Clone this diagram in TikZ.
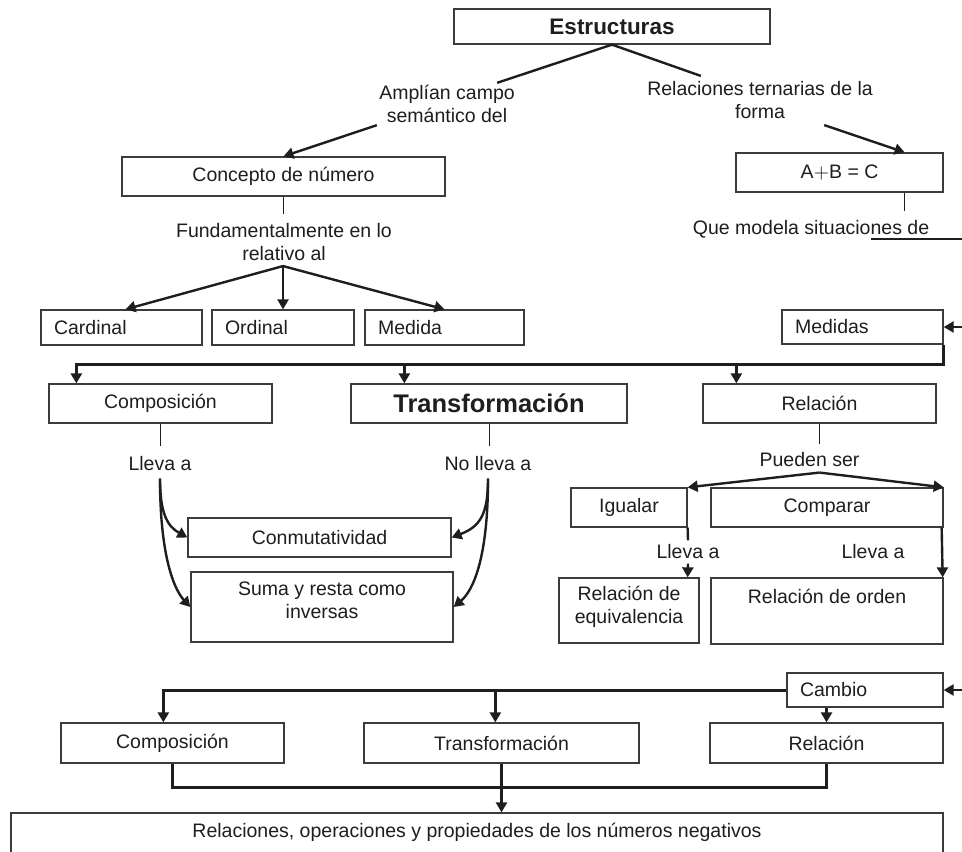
\documentclass[tikz,border=0pt]{standalone}
\usepackage{fontspec}
\setmainfont{Liberation Sans}
\usetikzlibrary{arrows.meta,calc}
\newcommand\mainfs{\fontsize{9.75}{11.5}\selectfont}
\definecolor{ink}{HTML}{1E1E1E}
\definecolor{frame}{HTML}{3C3C3C}
\begin{document}
\begin{tikzpicture}[x=0.5pt,y=-0.5pt,
  font=\mainfs, text=ink,
  >={Triangle[length=5pt,width=5.5pt]},
  box/.style={draw=frame, line width=0.65pt, rectangle, inner sep=0pt, align=center},
  lbox/.style={draw=frame, line width=0.65pt, rectangle, inner xsep=6.5pt, inner ysep=0pt, align=left},
  lbl/.style={inner sep=1pt, align=center},
  thin/.style={draw=ink, line width=0.5pt},
  link/.style={draw=ink, line width=1.2pt},
  bus/.style={draw=ink, line width=1.5pt},
]
\fill[white] (0,0) rectangle (962,851);
\useasboundingbox (0,0) rectangle (962,851);
\clip (0,0) rectangle (962,851);

% ---------- top: structures ----------
\node[box, minimum width=158pt, minimum height=17.5pt,
      font=\fontsize{11.25}{13}\selectfont\bfseries] (estr) at (612,26.5) {Estructuras};
\node[lbl] (amp) at (447,104) {Amplían campo\\semántico del};
\node[lbl] (rel) at (760,100) {Relaciones ternarias de la\\forma};
\node[box, minimum width=161.5pt, minimum height=19.5pt] (conc) at (283.5,176.5) {Concepto de número};
\node[box, minimum width=103.5pt, minimum height=19.5pt] (abc) at (839.5,172.5) {A$+$B = C};
\node[lbl] (fund) at (284,242) {Fundamentalmente en lo\\relativo al};
\node[lbl] (que) at (811,229) {Que modela situaciones de};

\node[lbox, text width=67.5pt, minimum height=17.5pt] (card) at (121.5,327.5) {Cardinal};
\node[lbox, text width=58pt, minimum height=17.5pt] (ord) at (283,327.5) {Ordinal};
\node[lbox, text width=66.5pt, minimum height=17.5pt] (med) at (444.5,327.5) {Medida};
\node[lbox, text width=67.5pt, minimum height=17pt] (meds) at (862.5,327) {Medidas};

% ---------- middle: measures ----------
\node[box, minimum width=111.5pt, minimum height=19.5pt] (comp) at (160.5,403.5) {Composición};
\node[box, minimum width=138pt, minimum height=19.5pt,
      font=\fontsize{12.75}{15}\selectfont\bfseries] (trans) at (489,403.5) {Transformación};
\node[box, minimum width=116.5pt, minimum height=19.5pt] (relc) at (819.5,403.5) {Relación};
\node[lbl] (ll1) at (160,464) {Lleva a};
\node[lbl] (nll) at (488,464) {No lleva a};
\node[lbl] (pud) at (809.5,460) {Pueden ser};
\node[box, minimum width=131.5pt, minimum height=19.5pt] (conm) at (319.5,537.5) {Conmutatividad};
\node[box, minimum width=131pt, minimum height=35pt] (suma) at (322,607)
     {Suma y resta como\\inversas\rule[-6.5pt]{0pt}{0pt}};
\node[box, minimum width=58pt, minimum height=19.5pt] (igu) at (629,507.5) {Igualar};
\node[box, minimum width=116pt, minimum height=19.5pt] (cmp) at (827,507.5) {Comparar};
\node[lbl, inner sep=2pt] (ll2) at (688,552) {Lleva a};
\node[lbl] (ll3) at (873,552) {Lleva a};
\node[box, minimum width=70pt, minimum height=32.5pt] (eqv) at (629,610.5)
     {Relación de\\equivalencia\rule[-6pt]{0pt}{0pt}};
\node[box, minimum width=116pt, minimum height=33pt, text height=7pt, text depth=15pt]
     (orden) at (827,611) {Relación de orden};

% ---------- bottom: change ----------
\node[lbox, text width=65pt, minimum height=17pt] (camb) at (865,690) {Cambio};
\node[box, minimum width=111.5pt, minimum height=20pt] (comp2) at (172.5,743) {Composición};
\node[box, minimum width=137.5pt, minimum height=20pt] (trans2) at (501.5,743) {Transformación};
\node[box, minimum width=116.5pt, minimum height=20pt] (relc2) at (826.5,743) {Relación};
\node[box, minimum width=466pt, minimum height=28.5pt, text height=7pt, text depth=11.5pt]
     (neg) at (477,841.5) {Relaciones, operaciones y propiedades de los números negativos};

% free ends running off the right margin
\coordinate (uS) at (871,239);
\coordinate (eR1) at (975,239);
\coordinate (eR2) at (975,327);
\coordinate (eR3) at (975,690);

% ---------- connectors ----------
\draw[link] (estr.south) -- ($(amp.north east)+(-20,0)$);
\draw[link] (estr.south) -- ($(rel.north west)+(56,-3)$);
\draw[link,->] (amp.south west) -- (conc.north);
\draw[link,->] ($(rel.south east)+(-51,4)$) -- ($(abc.north east)+(-39,0)$);
\draw[thin] ($(abc.south east)+(-39,0)$) -- ++(0,18);
\draw[link] (uS) -- (eR1);

\draw[thin] (conc.south) -- ++(0,17);
\coordinate (br1) at ($(fund.south)+(-1,3)$);
\draw[link,->] (br1) -- ($(card.north)+(4,0)$);
\draw[link,->] (br1) -- (ord.north);
\draw[link,->] (br1) -- (med.north);

\draw[link,->] (eR2) -- (meds.east);
\draw[bus,->] (meds.south east) -- ++(0,20) -| ($(comp.north west)+(28,0)$);
\draw[link,->] ($(trans.north west)+(54,-20)$) -- ($(trans.north west)+(54,0)$);
\draw[link,->] ($(relc.north west)+(34,-20)$) -- ($(relc.north west)+(34,0)$);

\draw[thin] (comp.south) -- ++(0,22);
\draw[thin] (trans.south) -- ++(0,22);
\coordinate (c1) at ($(ll1.south)+(0,5)$);
\coordinate (c2) at ($(nll.south)+(0,5)$);
\draw[link,->] (c1) .. controls ($(c1)+(0,36)$) and ($(c1)+(8,48)$) .. (conm.west);
\draw[link,->] (c1) .. controls ($(c1)+(0,83)$) and ($(c1)+(16,113)$) .. (suma.west);
\draw[link,->] (c2) .. controls ($(c2)+(0,36)$) and ($(c2)+(-8,48)$) .. (conm.east);
\draw[link,->] (c2) .. controls ($(c2)+(0,83)$) and ($(c2)+(-16,113)$) .. (suma.east);

\draw[thin] (relc.south) -- ++(0,20);
\coordinate (br2) at ($(relc.south |- pud.south)+(0,3)$);
\draw[link,->] (br2) -- (igu.north east);
\draw[link,->] (br2) -- (cmp.north east);
\draw[link] (igu.south east) -- (ll2.north);
\draw[link,->] (ll2.south) -- (eqv.north -| igu.east);
\draw[link,->] ($(cmp.south east)+(-2,0)$) -- ($(orden.north east)+(-1,0)$);

\draw[link,->] (eR3) -- (camb.east);
\draw[bus,->] (camb.west) -| ($(comp2.north west)+(103,0)$);
\draw[link,->] ($(trans2.north west)+(132,-33)$) -- ($(trans2.north west)+(132,0)$);
\draw[link,->] (relc2.north |- camb.south) -- (relc2.north);
\draw[link] (comp2.south) -- ++(0,24) -| (relc2.south);
\draw[link,->] (trans2.south) -- (neg.north -| trans2.south);
\end{tikzpicture}
\end{document}
